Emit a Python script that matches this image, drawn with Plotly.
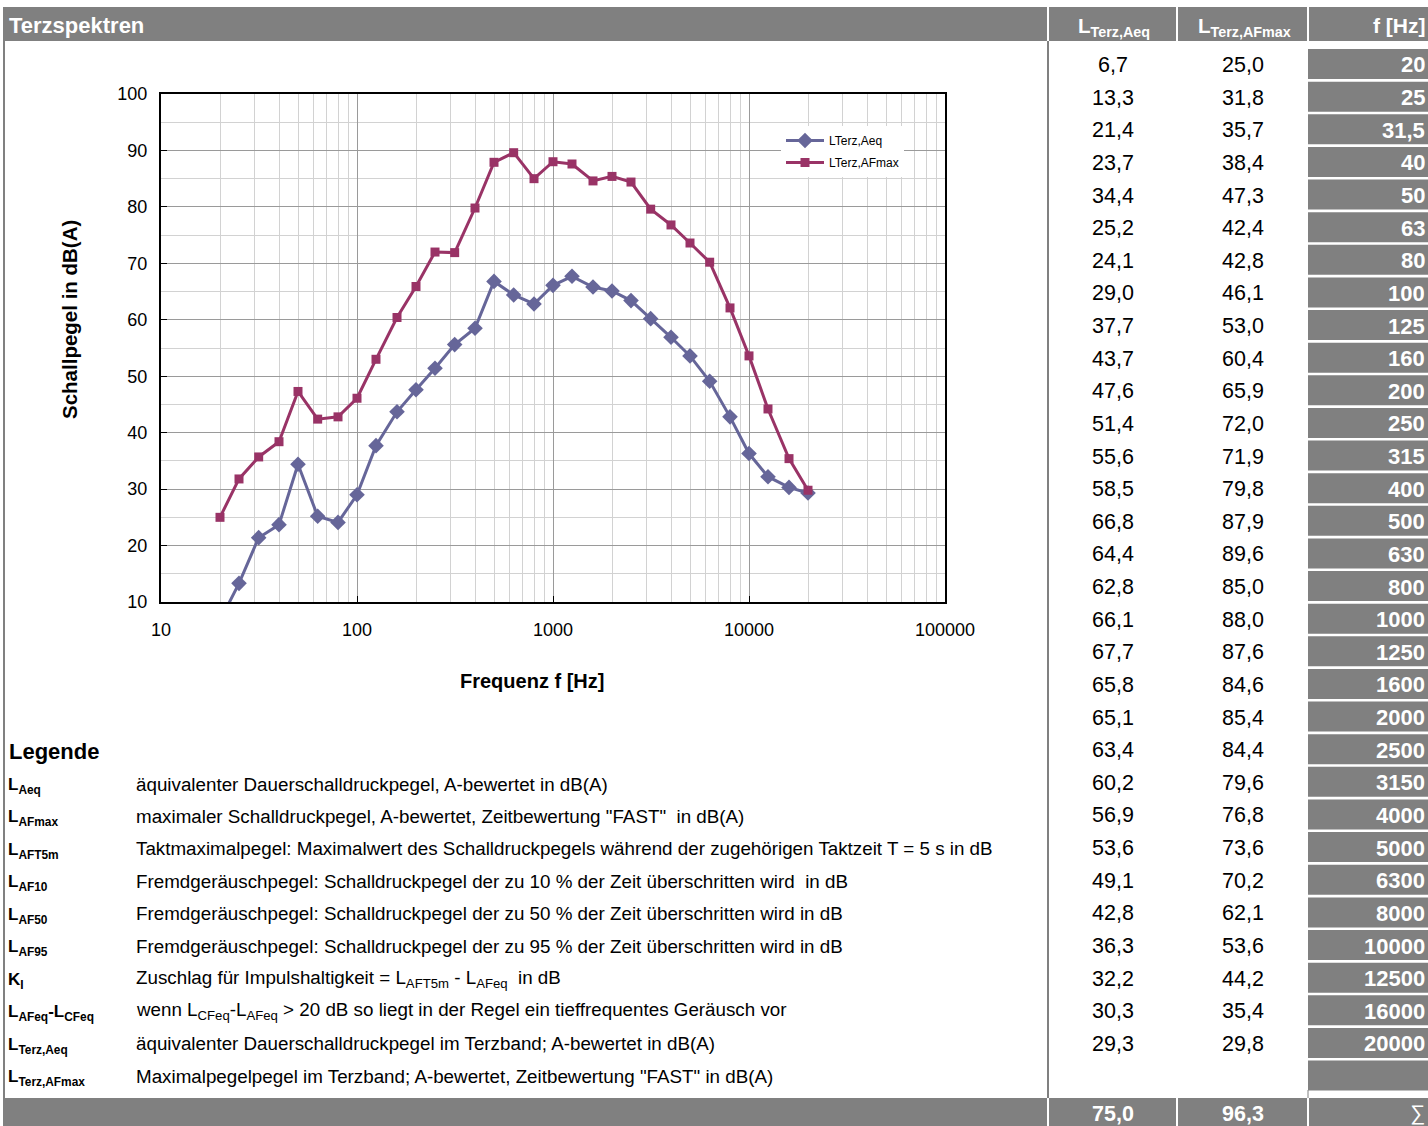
import plotly.graph_objects as go

# ---------------- data ----------------
freqs = [20, 25, 31.5, 40, 50, 63, 80, 100, 125, 160, 200, 250, 315, 400, 500, 630,
         800, 1000, 1250, 1600, 2000, 2500, 3150, 4000, 5000, 6300, 8000, 10000,
         12500, 16000, 20000]
freq_labels = ["20", "25", "31,5", "40", "50", "63", "80", "100", "125", "160", "200",
               "250", "315", "400", "500", "630", "800", "1000", "1250", "1600", "2000",
               "2500", "3150", "4000", "5000", "6300", "8000", "10000", "12500", "16000",
               "20000"]
l_terz_aeq = [6.7, 13.3, 21.4, 23.7, 34.4, 25.2, 24.1, 29.0, 37.7, 43.7, 47.6, 51.4,
              55.6, 58.5, 66.8, 64.4, 62.8, 66.1, 67.7, 65.8, 65.1, 63.4, 60.2, 56.9,
              53.6, 49.1, 42.8, 36.3, 32.2, 30.3, 29.3]
l_terz_afmax = [25.0, 31.8, 35.7, 38.4, 47.3, 42.4, 42.8, 46.1, 53.0, 60.4, 65.9, 72.0,
                71.9, 79.8, 87.9, 89.6, 85.0, 88.0, 87.6, 84.6, 85.4, 84.4, 79.6, 76.8,
                73.6, 70.2, 62.1, 53.6, 44.2, 35.4, 29.8]
sum_aeq = 75.0
sum_afmax = 96.3

x_tick_vals = [10, 100, 1000, 10000, 100000]
x_tick_text = ["10", "100", "1000", "10000", "100000"]
x_minor_vals = [m * 10 ** k for k in range(1, 5) for m in range(2, 10)]

legend_abbr = ["L<sub>Aeq</sub>", "L<sub>AFmax</sub>", "L<sub>AFT5m</sub>", "L<sub>AF10</sub>",
               "L<sub>AF50</sub>", "L<sub>AF95</sub>", "K<sub>I</sub>",
               "L<sub>AFeq</sub>-L<sub>CFeq</sub>", "L<sub>Terz,Aeq</sub>",
               "L<sub>Terz,AFmax</sub>"]
legend_desc = [
    "äquivalenter Dauerschalldruckpegel, A-bewertet in dB(A)",
    "maximaler Schalldruckpegel, A-bewertet, Zeitbewertung \"FAST\"  in dB(A)",
    "Taktmaximalpegel: Maximalwert des Schalldruckpegels während der zugehörigen Taktzeit T = 5 s in dB",
    "Fremdgeräuschpegel: Schalldruckpegel der zu 10 % der Zeit überschritten wird  in dB",
    "Fremdgeräuschpegel: Schalldruckpegel der zu 50 % der Zeit überschritten wird in dB",
    "Fremdgeräuschpegel: Schalldruckpegel der zu 95 % der Zeit überschritten wird in dB",
    "Zuschlag für Impulshaltigkeit = L<sub>AFT5m</sub> - L<sub>AFeq</sub>  in dB",
    "wenn L<sub>CFeq</sub>-L<sub>AFeq</sub> > 20 dB so liegt in der Regel ein tieffrequentes Geräusch vor",
    "äquivalenter Dauerschalldruckpegel im Terzband; A-bewertet in dB(A)",
    "Maximalpegelpegel im Terzband; A-bewertet, Zeitbewertung \"FAST\" in dB(A)",
]

# ---------------- layout helpers ----------------
W, H = 1428, 1126
FONT = "Liberation Sans, Arial, sans-serif"
GRAY = "#808080"


def px(x):
    return x / W


def py(y):
    return 1 - y / H


def fmt(v):
    return f"{v:.1f}".replace(".", ",")


fig = go.Figure()

fig.add_trace(go.Scatter(
    x=freqs, y=l_terz_aeq, name="LTerz,Aeq", mode="lines+markers",
    line=dict(color="#666699", width=3),
    marker=dict(symbol="diamond", size=12, color="#666699"),
    legendgroup="a",
))
fig.add_trace(go.Scatter(
    x=freqs, y=l_terz_afmax, name="LTerz,AFmax", mode="lines+markers",
    line=dict(color="#993366", width=3),
    marker=dict(symbol="square", size=9, color="#993366"),
    legendgroup="b",
))

shapes = []
annotations = []


def rect(x0, y0, x1, y1, color=GRAY):
    shapes.append(dict(type="rect", xref="paper", yref="paper",
                       x0=px(x0), x1=px(x1), y0=py(y1), y1=py(y0),
                       fillcolor=color, line=dict(width=0), layer="above"))


def vline(x, y0, y1, color, width=2):
    shapes.append(dict(type="line", xref="paper", yref="paper",
                       x0=px(x), x1=px(x), y0=py(y0), y1=py(y1),
                       line=dict(color=color, width=width), layer="above"))


def text(x, y, s, size, color="black", bold=False, xanchor="left"):
    if bold:
        s = f"<b>{s}</b>"
    annotations.append(dict(xref="paper", yref="paper", x=px(x), y=py(y), text=s,
                            showarrow=False, xanchor=xanchor, yanchor="middle",
                            font=dict(family=FONT, size=size, color=color)))


# header and footer bars
rect(3, 7, 1428, 41)
rect(3, 1098, 1428, 1126)
for sx in (1048, 1177, 1308):
    vline(sx, 7, 41, "white")
    vline(sx, 1098, 1126, "white")
# body borders
vline(4, 41, 1098, GRAY)
vline(1048, 41, 1098, GRAY)
vline(1308, 1090, 1098, GRAY, 1)

# header texts
text(7, 26, "Terzspektren", 22, "white", True)
text(1114, 27, "L<sub>Terz,Aeq</sub>", 20.5, "white", True, "center")
text(1244, 27, "L<sub>Terz,AFmax</sub>", 20.5, "white", True, "center")
text(1427, 26, "f [Hz]", 21, "white", True, "right")

# table rows
ROW0, ROWH = 64, 32.63
for i in range(len(freqs) + 1):
    yc = ROW0 + i * ROWH
    rect(1308, yc - 15, 1428, yc + 15)
for i, (fl, a, m) in enumerate(zip(freq_labels, l_terz_aeq, l_terz_afmax)):
    yc = ROW0 + i * ROWH
    text(1113, yc + 1, fmt(a), 21.5, "black", False, "center")
    text(1243, yc + 1, fmt(m), 21.5, "black", False, "center")
    text(1427, yc + 1, fl, 22, "white", True, "right")

# footer texts
text(1113, 1114, fmt(sum_aeq), 21.5, "white", True, "center")
text(1243, 1114, fmt(sum_afmax), 21.5, "white", True, "center")
text(1427, 1113, "∑", 21, "white", False, "right")

# legend block
text(7, 751, "Legende", 22, "black", True)
LROW0, LROWH = 784, 32.45
for i, (ab, ds) in enumerate(zip(legend_abbr, legend_desc)):
    yc = LROW0 + i * LROWH
    text(6, yc + 2, ab, 17, "black", True)
    text(134, yc, ds, 18.8, "black", False)

# axis titles
annotations.append(dict(xref="paper", yref="paper", x=px(532), y=py(681),
                        text="<b>Frequenz f [Hz]</b>", showarrow=False,
                        xanchor="center", yanchor="middle",
                        font=dict(family=FONT, size=20, color="black")))
annotations.append(dict(xref="paper", yref="paper", x=px(69), y=py(320),
                        text="<b>Schallpegel in dB(A)</b>", showarrow=False,
                        textangle=-90, xanchor="center", yanchor="middle",
                        font=dict(family=FONT, size=20.5, color="black")))

fig.update_layout(
    width=W, height=H,
    margin=dict(l=0, r=0, t=0, b=0, pad=0, autoexpand=False),
    paper_bgcolor="white", plot_bgcolor="white",
    font=dict(family=FONT, color="black"),
    shapes=shapes, annotations=annotations,
    showlegend=True,
    legend=dict(x=px(781), y=py(126), xanchor="left", yanchor="top",
                bgcolor="white", font=dict(family=FONT, size=12, color="black"),
                itemwidth=38, tracegroupgap=3, traceorder="grouped"),
    xaxis=dict(
        type="log", range=[1, 5], domain=[px(161), px(945)],
        tickmode="array", tickvals=x_tick_vals, ticktext=x_tick_text,
        tickfont=dict(family=FONT, size=18, color="black"),
        ticks="inside", ticklen=6, tickcolor="black", tickwidth=1,
        ticklabelstandoff=10, automargin=False,
        showgrid=True, gridcolor="#9a9a9a", gridwidth=1,
        minor=dict(tickmode="array", tickvals=x_minor_vals, showgrid=True,
                   gridcolor="#d2d2d2", gridwidth=1, ticks=""),
        showline=True, linecolor="black", linewidth=2, mirror=True,
        zeroline=False, fixedrange=True,
    ),
    yaxis=dict(
        range=[10, 100], domain=[py(602), py(94)],
        tickmode="linear", tick0=10, dtick=10,
        tickfont=dict(family=FONT, size=18, color="black"),
        ticks="inside", ticklen=6, tickcolor="black", tickwidth=1,
        ticklabelstandoff=8, automargin=False,
        showgrid=True, gridcolor="#9a9a9a", gridwidth=1,
        minor=dict(dtick=5, showgrid=True, gridcolor="#d2d2d2", gridwidth=1, ticks=""),
        showline=True, linecolor="black", linewidth=2, mirror=True,
        zeroline=False, fixedrange=True,
    ),
)

fig.write_html(
    "out.html",
    config={"displayModeBar": False},
    post_script="document.body.style.margin='0';document.body.style.overflow='hidden';",
)
